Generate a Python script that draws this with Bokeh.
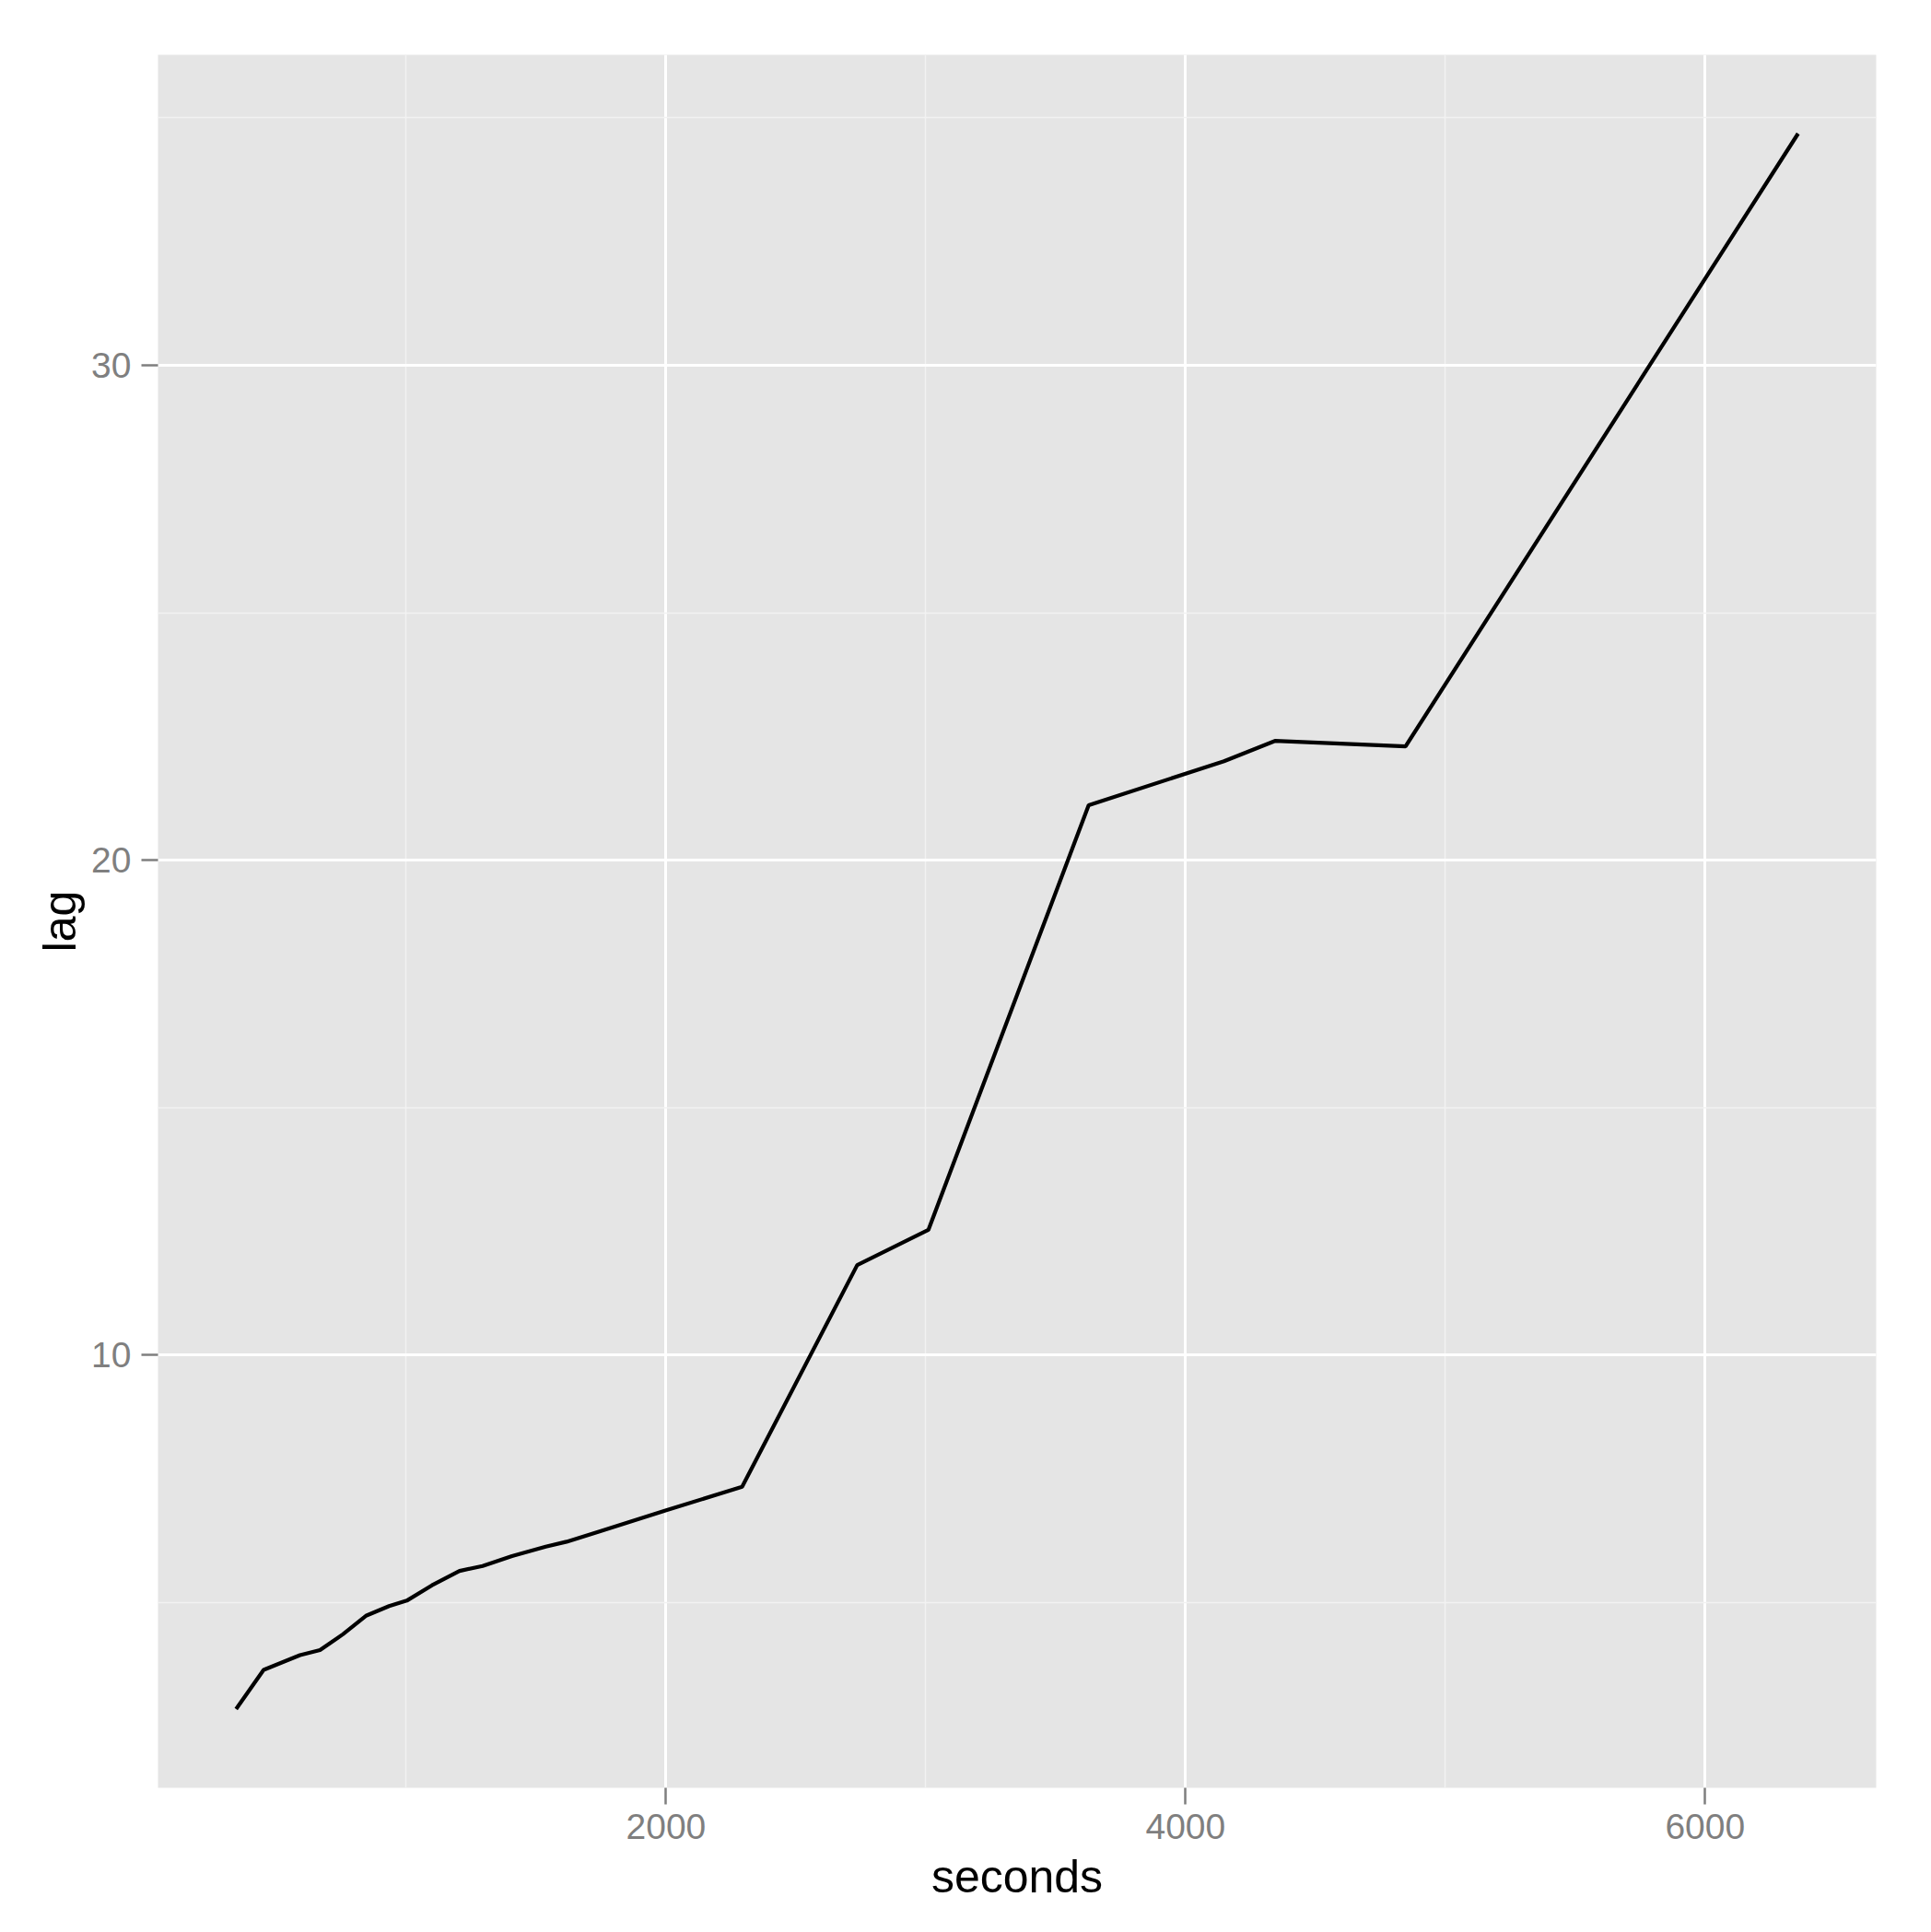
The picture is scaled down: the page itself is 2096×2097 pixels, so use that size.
from bokeh.plotting import figure
from bokeh.models import Range1d, FixedTicker
from bokeh.embed import file_html
from bokeh.resources import INLINE

# data
seconds = [345, 451, 591, 668, 756, 847, 934, 1002, 1099, 1205, 1294, 1407,
           1537, 1617, 1744, 1998, 2293, 2736, 3010, 3627, 4148, 4344, 4847, 6358]
lag = [2.85, 3.64, 3.94, 4.04, 4.36, 4.74, 4.93, 5.04, 5.35, 5.64, 5.74, 5.94,
       6.13, 6.23, 6.44, 6.86, 7.34, 11.82, 12.53, 21.11, 22.00, 22.41, 22.30, 34.68]

x_ticks = [2000, 4000, 6000]
x_minor = [1000, 3000, 5000]
y_ticks = [10, 20, 30]
y_minor = [5, 15, 25, 35]

FONT = "Liberation Sans"

def expand(vals, f=0.05):
    lo, hi = min(vals), max(vals)
    d = (hi - lo) * f
    return lo - d, hi + d

x0, x1 = expand(seconds)
y0, y1 = expand(lag)

p = figure(frame_width=1865, frame_height=1881,
           min_border_left=171, min_border_right=52,
           min_border_top=59, min_border_bottom=150,
           x_range=Range1d(x0, x1), y_range=Range1d(y0, y1),
           output_backend="svg", toolbar_location=None)

p.background_fill_color = "#e5e5e5"
p.border_fill_color = "white"
p.outline_line_color = None

p.xaxis.ticker = FixedTicker(ticks=x_ticks, minor_ticks=x_minor)
p.yaxis.ticker = FixedTicker(ticks=y_ticks, minor_ticks=y_minor)

for g in (p.xgrid[0], p.ygrid[0]):
    g.grid_line_color = "white"
    g.grid_line_width = 3
    g.minor_grid_line_color = "#f2f2f2"
    g.minor_grid_line_width = 1.5

for ax in (p.xaxis[0], p.yaxis[0]):
    ax.axis_line_color = None
    ax.major_tick_line_color = "#7f7f7f"
    ax.major_tick_line_width = 2.5
    ax.major_tick_out = 18
    ax.major_tick_in = 0
    ax.minor_tick_line_color = None
    ax.major_label_text_font = FONT
    ax.major_label_text_font_size = "39px"
    ax.major_label_text_color = "#7f7f7f"
    ax.axis_label_text_font = FONT
    ax.axis_label_text_font_size = "50px"
    ax.axis_label_text_font_style = "normal"
    ax.axis_label_text_color = "black"

p.xaxis.axis_label = "seconds"
p.yaxis.axis_label = "lag"
p.xaxis.major_label_standoff = 10
p.yaxis.major_label_standoff = 11
p.xaxis.axis_label_standoff = 10
p.yaxis.axis_label_standoff = 3

p.line(seconds, lag, line_color="black", line_width=4.2)

open("out.html", "w").write(file_html(p, INLINE))
